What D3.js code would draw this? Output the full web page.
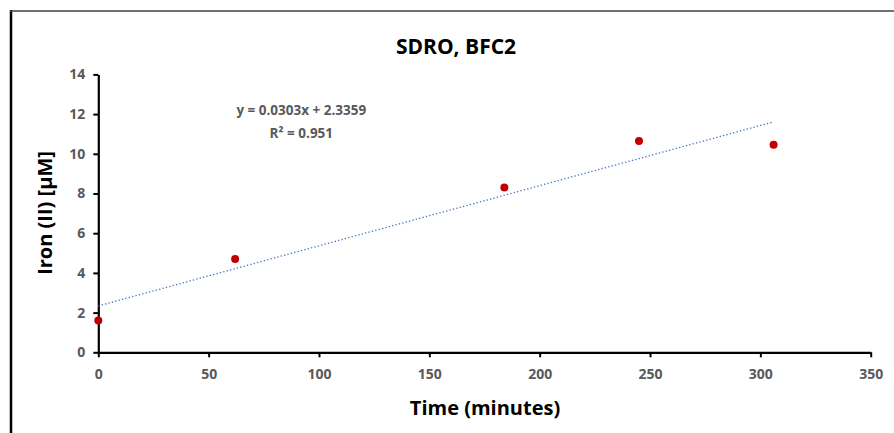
<!DOCTYPE html>
<html>
<head>
<meta charset="utf-8">
<script src="https://cdn.jsdelivr.net/npm/d3@7"></script>
<style>
  body { margin: 0; background: #fff; }
  svg { display: block; }
  text { font-family: "Open Sans", sans-serif; font-weight: bold; }
</style>
</head>
<body>
<svg id="chart" width="894" height="433"></svg>
<script>
// data
const times = [0, 62, 184, 245, 306];
const iron = [1.6, 4.7, 8.3, 10.65, 10.45];
const xTicks = [0, 50, 100, 150, 200, 250, 300, 350];
const yTicks = [0, 2, 4, 6, 8, 10, 12, 14];
const slope = 0.0303, intercept = 2.3359;
const eqLines = ["y = 0.0303x + 2.3359", "R² = 0.951"];

const svg = d3.select("#chart"),
  margin = { top: 74.4, right: 23.3, bottom: 80.7, left: 98.3 },
  width = 894 - margin.left - margin.right,
  height = 433 - margin.top - margin.bottom;

// frame (clipped by the window on right/bottom)
svg.append("line").attr("x1", 11).attr("y1", 10).attr("x2", 11).attr("y2", 433)
  .attr("stroke", "#000").attr("stroke-width", 2.5);
svg.append("line").attr("x1", 10).attr("y1", 11).attr("x2", 894).attr("y2", 11)
  .attr("stroke", "#404040").attr("stroke-width", 1.5);

const g = svg.append("g").attr("transform", `translate(${margin.left},${margin.top})`);

const x = d3.scaleLinear().domain([0, 350]).range([0, width]);
const y = d3.scaleLinear().domain([0, 14]).range([height, 0]);

// Y axis
const yAxis = g.append("g").call(d3.axisLeft(y).tickValues(yTicks).tickSize(5).tickSizeOuter(0).tickPadding(8));
// X axis
const xAxis = g.append("g").attr("transform", `translate(0,${height})`)
  .call(d3.axisBottom(x).tickValues(xTicks).tickSize(5).tickSizeOuter(0).tickPadding(12));

[xAxis, yAxis].forEach((a) => {
  a.select(".domain").attr("stroke", "#000").attr("stroke-width", 2.2);
  a.selectAll(".tick line").attr("stroke", "#000").attr("stroke-width", 2);
  a.selectAll(".tick text").attr("fill", "#595959").style("font-size", "14px")
    .style("font-family", '"Open Sans", sans-serif');
});

// trendline
const x0 = d3.min(times), x1 = d3.max(times);
g.append("line")
  .attr("x1", x(x0)).attr("y1", y(slope * x0 + intercept))
  .attr("x2", x(x1)).attr("y2", y(slope * x1 + intercept))
  .attr("stroke", "#4472C4").attr("stroke-width", 1.3)
  .attr("stroke-dasharray", "1.3,2.2");

// points
g.selectAll(".pt").data(times).enter().append("circle")
  .attr("class", "pt")
  .attr("cx", (d) => x(d))
  .attr("cy", (d, i) => y(iron[i]))
  .attr("r", 4)
  .attr("fill", "#C00000");

// equation
g.selectAll(".eq").data(eqLines).enter().append("text")
  .attr("class", "eq")
  .attr("x", 203).attr("y", (d, i) => 41 + i * 23)
  .attr("text-anchor", "middle").attr("fill", "#595959")
  .style("font-size", "13.5px").text((d) => d);

// title & axis titles
svg.append("text").attr("x", 456).attr("y", 54).attr("text-anchor", "middle")
  .style("font-size", "21px").attr("fill", "#000").text("SDRO, BFC2");
svg.append("text").attr("x", 485).attr("y", 415).attr("text-anchor", "middle")
  .style("font-size", "20px").attr("fill", "#000").text("Time (minutes)");
svg.append("text").attr("transform", "translate(52,213) rotate(-90)").attr("text-anchor", "middle")
  .style("font-size", "20px").attr("fill", "#000").text("Iron (II) [µM]");
</script>
</body>
</html>
